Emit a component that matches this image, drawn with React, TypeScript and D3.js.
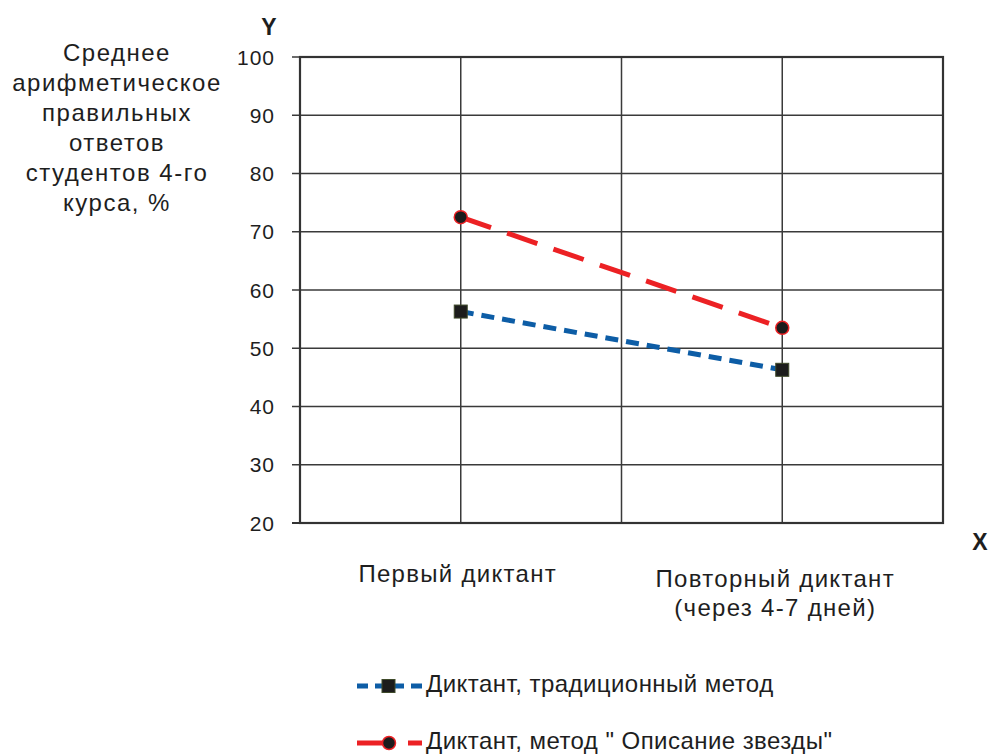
import React, { useEffect, useRef } from "react";
import * as d3 from "d3";

const categories = ["Первый диктант", "Повторный диктант\n(через 4-7 дней)"];
const categoryPos = [1, 3];
const traditional = [56.3, 46.3];
const star = [72.5, 53.5];
const yTicks = [20, 30, 40, 50, 60, 70, 80, 90, 100];
const yTitle = ["Среднее", "арифметическое", "правильных", "ответов", "студентов 4-го", "курса, %"];
const legendNames = ["Диктант, традиционный метод", 'Диктант, метод " Описание звезды"'];

const App: React.FC = () => {
  const svgRef = useRef<any>();

  useEffect(() => {
    const width = 989;
    const height = 754;
    const left = 300;
    const right = 943;
    const top = 57;
    const bottom = 523;
    const font = "'Liberation Sans', Arial, sans-serif";
    const ink = "#1e1e1e";

    const svg = d3.select(svgRef.current);
    svg.selectAll("*").remove();
    svg.attr("width", width).attr("height", height).style("font-family", font);

    const x = d3.scaleLinear().domain([0, 4]).range([left, right]);
    const y = d3.scaleLinear().domain([20, 100]).range([bottom, top]);

    // grid
    const grid = svg.append("g").attr("stroke", "#3a3a3a").attr("stroke-width", 1.5);
    grid
      .selectAll("line.h")
      .data(yTicks.filter((d) => d > 20))
      .join("line")
      .attr("x1", left - 8)
      .attr("x2", right)
      .attr("y1", (d) => y(d))
      .attr("y2", (d) => y(d));
    grid
      .selectAll("line.v")
      .data([1, 2, 3])
      .join("line")
      .attr("x1", (d) => x(d))
      .attr("x2", (d) => x(d))
      .attr("y1", top)
      .attr("y2", bottom);

    // frame
    svg
      .append("rect")
      .attr("x", left)
      .attr("y", top)
      .attr("width", right - left)
      .attr("height", bottom - top)
      .attr("fill", "none")
      .attr("stroke", "#333")
      .attr("stroke-width", 2.2);
    svg
      .append("line")
      .attr("x1", left - 8)
      .attr("x2", left)
      .attr("y1", bottom)
      .attr("y2", bottom)
      .attr("stroke", "#333")
      .attr("stroke-width", 2);

    // y tick labels
    svg
      .append("g")
      .selectAll("text")
      .data(yTicks)
      .join("text")
      .attr("x", 275)
      .attr("y", (d) => y(d) + 7.5)
      .attr("text-anchor", "end")
      .attr("font-size", 21)
      .attr("letter-spacing", 1)
      .attr("fill", ink)
      .text((d) => d);

    // axis letters
    svg.append("text").attr("x", 269).attr("y", 35).attr("text-anchor", "middle")
      .attr("font-size", 23).attr("font-weight", "bold").attr("fill", ink).text("Y");
    svg.append("text").attr("x", 980).attr("y", 550).attr("text-anchor", "middle")
      .attr("font-size", 23).attr("font-weight", "bold").attr("fill", ink).text("X");

    // y title
    svg
      .append("text")
      .attr("text-anchor", "middle")
      .attr("font-size", 24)
      .attr("letter-spacing", 1.5)
      .attr("fill", ink)
      .selectAll("tspan")
      .data(yTitle)
      .join("tspan")
      .attr("x", 117)
      .attr("y", (d, i) => 61 + i * 30)
      .text((d) => d);

    // category labels
    categories.forEach((c, i) => {
      const lines = c.split("\n");
      svg
        .append("text")
        .attr("text-anchor", "middle")
        .attr("font-size", 24)
        .attr("letter-spacing", 1.3)
        .attr("fill", ink)
        .selectAll("tspan")
        .data(lines)
        .join("tspan")
        .attr("x", x(categoryPos[i]) - (i === 0 ? 3 : 7))
        .attr("y", (d, j) => (i === 0 ? 582 : 587) + j * 29)
        .text((d) => d);
    });

    const line = d3
      .line<number>()
      .x((d, i) => x(categoryPos[i]))
      .y((d) => y(d));

    svg
      .append("path")
      .attr("d", line(traditional))
      .attr("fill", "none")
      .attr("stroke", "#0d5da6")
      .attr("stroke-width", 5)
      .attr("stroke-dasharray", "13 8");
    svg
      .append("path")
      .attr("d", line(star))
      .attr("fill", "none")
      .attr("stroke", "#ec2124")
      .attr("stroke-width", 5)
      .attr("stroke-dasharray", "32 17");

    svg
      .append("g")
      .selectAll("rect")
      .data(traditional)
      .join("rect")
      .attr("x", (d, i) => x(categoryPos[i]) - 6.5)
      .attr("y", (d) => y(d) - 6.5)
      .attr("width", 13)
      .attr("height", 13)
      .attr("fill", "#1c1c1c")
      .attr("stroke", "#3f4a2a")
      .attr("stroke-width", 1);
    svg
      .append("g")
      .selectAll("circle")
      .data(star)
      .join("circle")
      .attr("cx", (d, i) => x(categoryPos[i]))
      .attr("cy", (d) => y(d))
      .attr("r", 6.5)
      .attr("fill", "#1c1c1c")
      .attr("stroke", "#ec2124")
      .attr("stroke-width", 1.5);

    // legend
    const lg = svg.append("g");
    const ly = [686, 743];
    lg.append("line").attr("x1", 357).attr("x2", 422).attr("y1", ly[0]).attr("y2", ly[0])
      .attr("stroke", "#0d5da6").attr("stroke-width", 5).attr("stroke-dasharray", "11 7");
    lg.append("rect").attr("x", 382).attr("y", ly[0] - 6.5).attr("width", 13).attr("height", 13)
      .attr("fill", "#1c1c1c").attr("stroke", "#3f4a2a");
    lg.append("line").attr("x1", 357).attr("x2", 422).attr("y1", ly[1]).attr("y2", ly[1])
      .attr("stroke", "#ec2124").attr("stroke-width", 5).attr("stroke-dasharray", "38 13 20");
    lg.append("circle").attr("cx", 389).attr("cy", ly[1]).attr("r", 6.5)
      .attr("fill", "#1c1c1c").attr("stroke", "#ec2124").attr("stroke-width", 1.5);
    lg.selectAll("text.lt")
      .data(legendNames)
      .join("text")
      .attr("x", 426)
      .attr("y", (d, i) => ly[i] + 6)
      .attr("font-size", 24)
      .attr("letter-spacing", 0.45)
      .attr("fill", ink)
      .text((d) => d);
  }, []);

  return <svg ref={svgRef} style={{ position: "absolute", left: 0, top: 0 }}></svg>;
};

export default App;
